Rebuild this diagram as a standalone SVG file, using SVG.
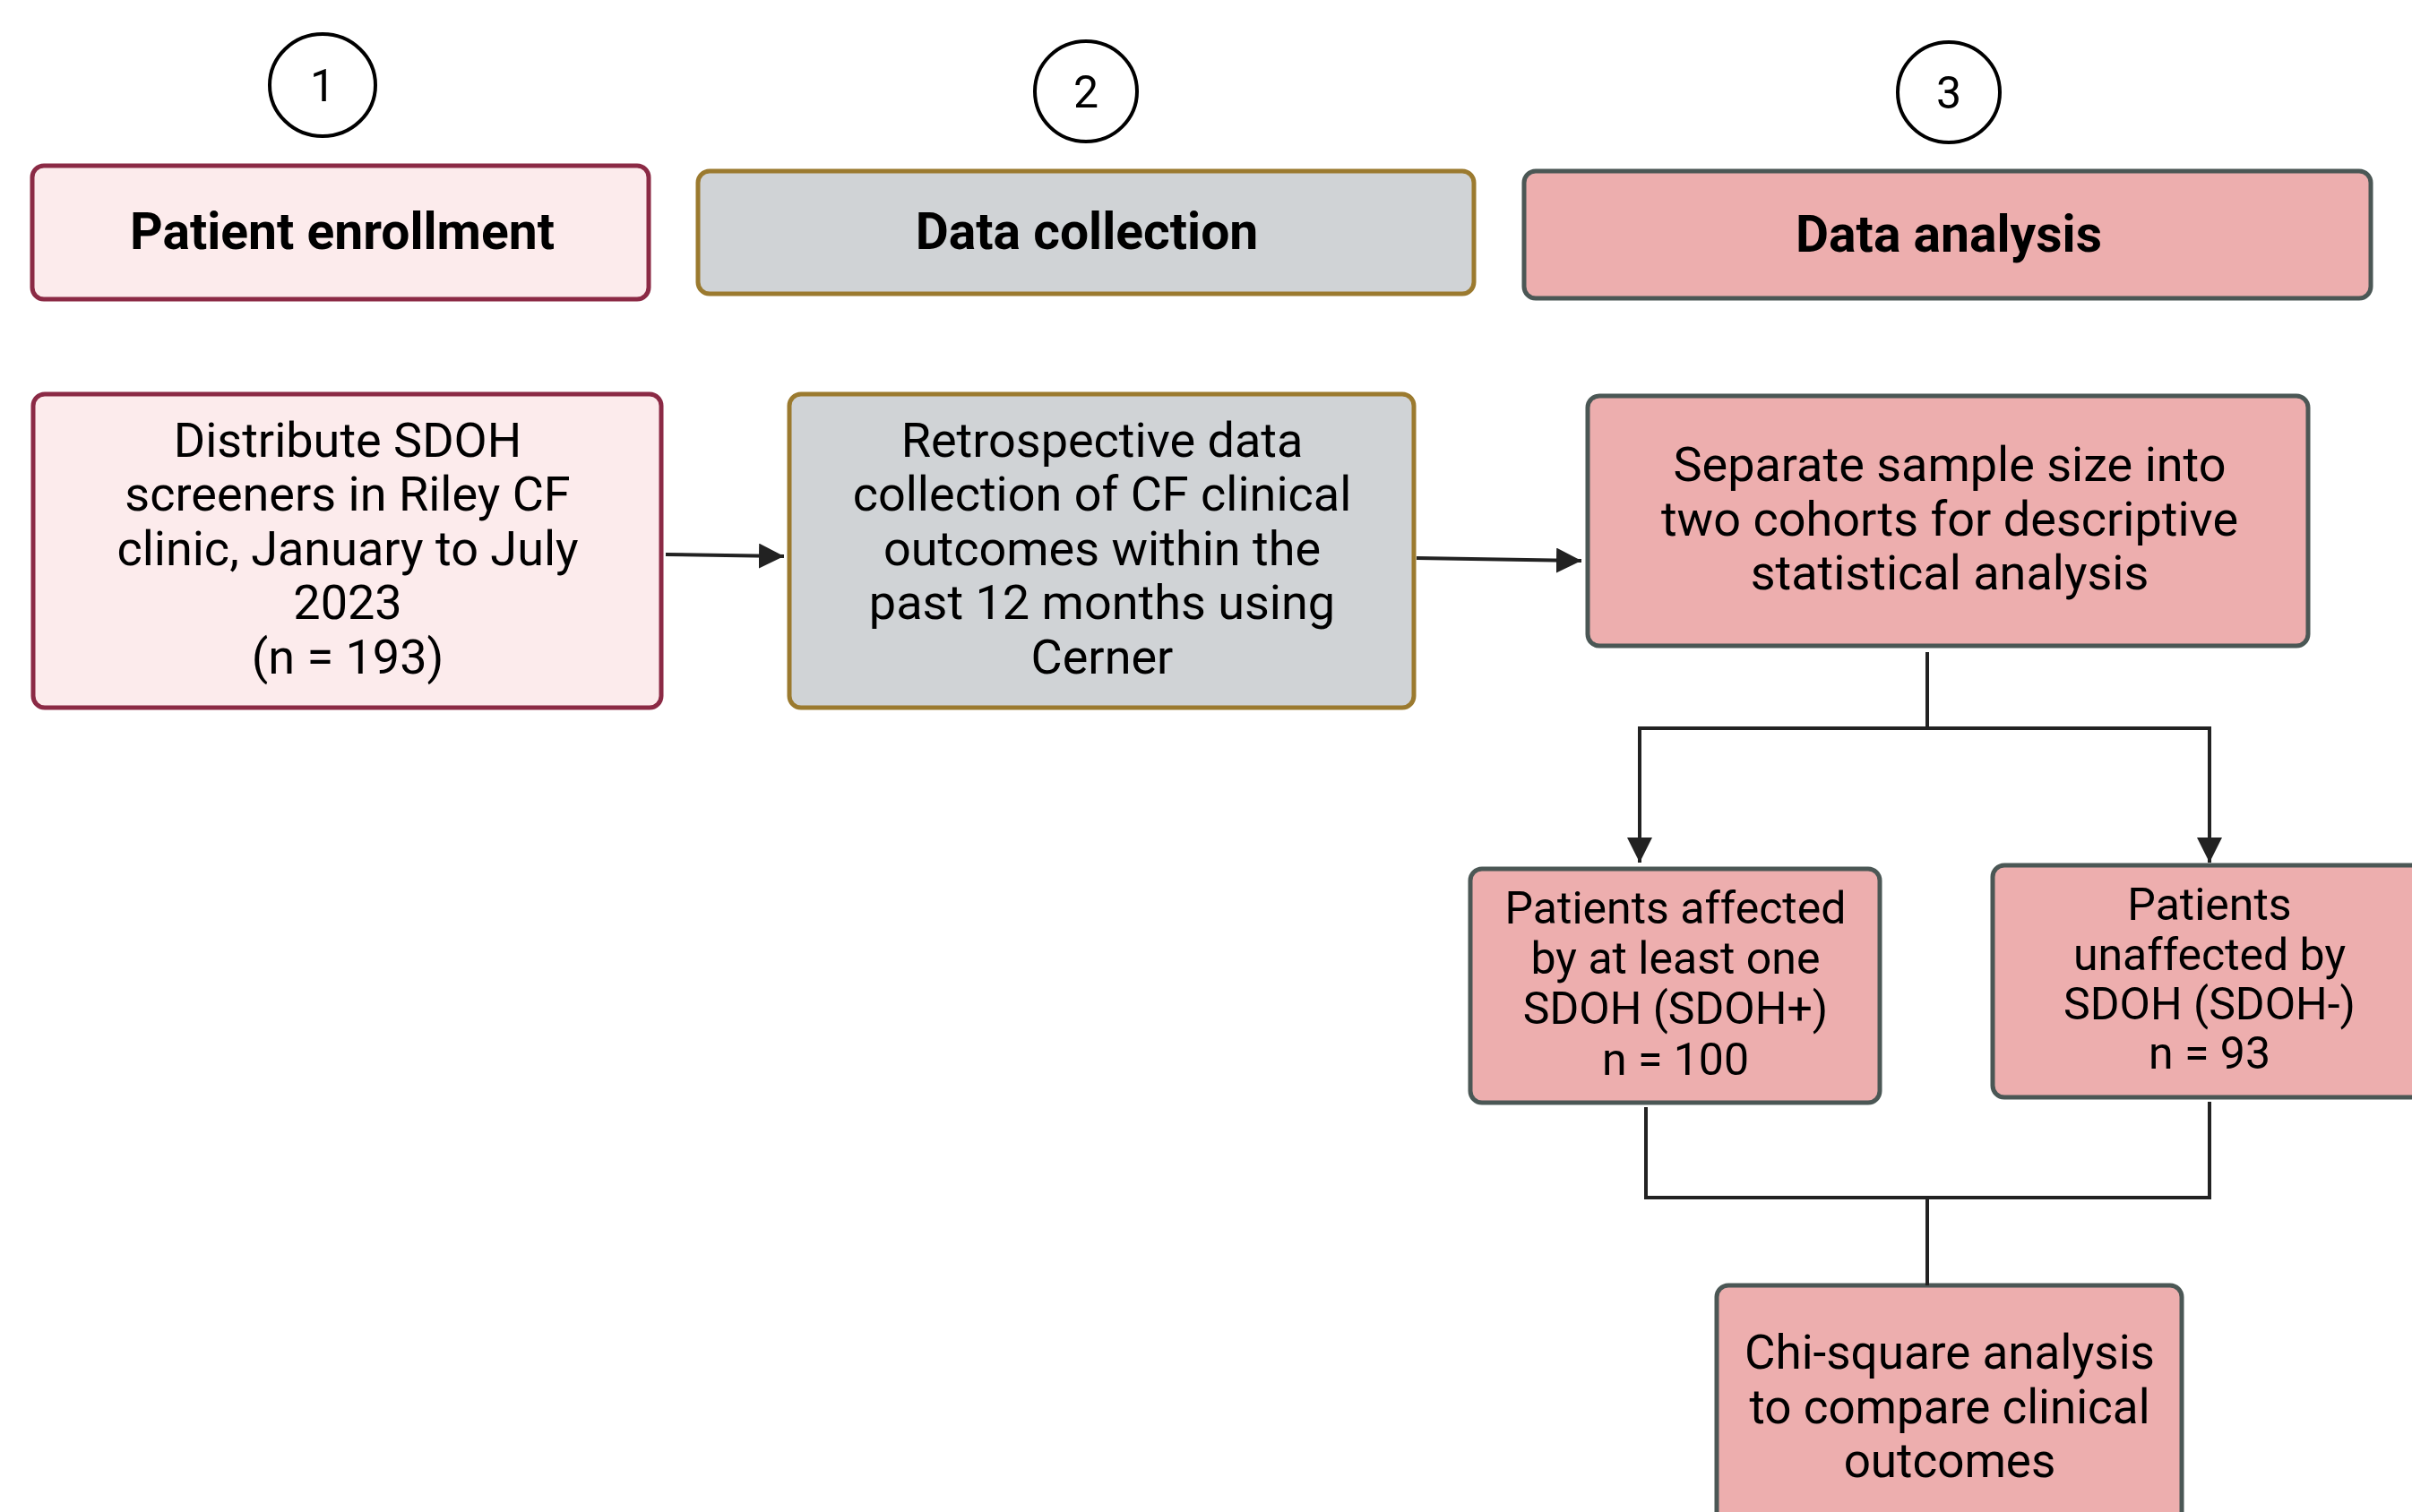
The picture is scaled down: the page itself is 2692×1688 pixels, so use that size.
<svg xmlns="http://www.w3.org/2000/svg" width="2692" height="1688" viewBox="0 0 2692 1688">
<style>
.num{fill:#fff;stroke:#000;stroke-width:4}
.numt{font-family:Roboto,"Liberation Sans",sans-serif;font-size:50px;fill:#000;text-anchor:middle}
.hdr{font-family:Roboto,"Liberation Sans",sans-serif;font-size:57px;font-weight:bold;fill:#000;text-anchor:middle}
.t{font-family:Roboto,"Liberation Sans",sans-serif;font-size:54px;fill:#000;text-anchor:middle}
.s{font-size:50px}
.m{font-size:53px}
.b1{fill:#FCEBEC;stroke:#8B2A45;stroke-width:5}
.b2{fill:#D0D3D6;stroke:#9B7A2F;stroke-width:5}
.b3{fill:#EDAEAE;stroke:#4B5755;stroke-width:5}
.c{fill:none;stroke:#222;stroke-width:4}
</style>
<defs>
<marker id="ah" viewBox="0 0 10 10" refX="10" refY="5" markerWidth="7" markerHeight="7" markerUnits="strokeWidth" orient="auto">
<path d="M0,0 L10,5 L0,10 Z" fill="#222"/>
</marker>
</defs>
<rect width="2692" height="1688" fill="#fff"/>
<g id="step1">
<ellipse class="num" cx="360" cy="95" rx="59" ry="57"/>
<text class="numt" x="360" y="113">1</text>
</g>
<g id="step2">
<ellipse class="num" cx="1212" cy="102" rx="57" ry="56"/>
<text class="numt" x="1212" y="120">2</text>
</g>
<g id="step3">
<ellipse class="num" cx="2175" cy="103" rx="57" ry="56"/>
<text class="numt" x="2175" y="121">3</text>
</g>
<g id="hdr-enroll">
<rect class="b1" x="36" y="185" width="688" height="149" rx="13"/>
<text class="hdr" x="382" y="278">Patient enrollment</text>
</g>
<g id="hdr-collect">
<rect class="b2" x="779" y="191" width="866" height="137" rx="13"/>
<text class="hdr" x="1213" y="278">Data collection</text>
</g>
<g id="hdr-analysis">
<rect class="b3" x="1701" y="191" width="945" height="142" rx="13"/>
<text class="hdr" x="2175" y="281">Data analysis</text>
</g>
<g id="distribute">
<rect class="b1" x="37" y="440" width="701" height="350" rx="13"/>
<text class="t" x="388"><tspan x="388" y="510">Distribute SDOH</tspan><tspan x="388" y="570">screeners in Riley CF</tspan><tspan x="388" y="631">clinic, January to July</tspan><tspan x="388" y="691">2023</tspan><tspan x="388" y="752">(n = 193)</tspan></text>
</g>
<g id="retro">
<rect class="b2" x="881" y="440" width="697" height="350" rx="13"/>
<text class="t" x="1230"><tspan x="1230" y="510">Retrospective data</tspan><tspan x="1230" y="570">collection of CF clinical</tspan><tspan x="1230" y="631">outcomes within the</tspan><tspan x="1230" y="691">past 12 months using</tspan><tspan x="1230" y="752">Cerner</tspan></text>
</g>
<g id="separate">
<rect class="b3" x="1772" y="442" width="804" height="279" rx="13"/>
<text class="t" x="2176"><tspan x="2176" y="537">Separate sample size into</tspan><tspan x="2176" y="598">two cohorts for descriptive</tspan><tspan x="2176" y="658">statistical analysis</tspan></text>
</g>
<g id="sdoh-pos">
<rect class="b3" x="1641" y="970" width="457" height="261" rx="13"/>
<text class="t s" x="1870"><tspan x="1870" y="1031">Patients affected</tspan><tspan x="1870" y="1087">by at least one</tspan><tspan x="1870" y="1143">SDOH (SDOH+)</tspan><tspan x="1870" y="1200">n = 100</tspan></text>
</g>
<g id="sdoh-neg">
<rect class="b3" x="2224" y="966" width="490" height="259" rx="13"/>
<text class="t s" x="2466"><tspan x="2466" y="1027">Patients</tspan><tspan x="2466" y="1083">unaffected by</tspan><tspan x="2466" y="1138">SDOH (SDOH-)</tspan><tspan x="2466" y="1193">n = 93</tspan></text>
</g>
<g id="chisq">
<rect class="b3" x="1916" y="1435" width="519" height="300" rx="13"/>
<text class="t m" x="2176"><tspan x="2176" y="1528">Chi-square analysis</tspan><tspan x="2176" y="1589">to compare clinical</tspan><tspan x="2176" y="1649">outcomes</tspan></text>
</g>
<g id="connectors">
<path class="c" d="M743,619 L875,621" marker-end="url(#ah)"/>
<path class="c" d="M1581,623 L1765,626" marker-end="url(#ah)"/>
<path class="c" d="M2151,728 L2151,813"/>
<path class="c" d="M1830,963 L1830,813 L2466,813 L2466,963" marker-end="url(#ah)"/>
<path class="c" d="M1830,813 L1830,963" marker-end="url(#ah)"/>
<path class="c" d="M1837,1236 L1837,1337 L2466,1337 L2466,1230"/>
<path class="c" d="M2151,1337 L2151,1435"/>
</g>
</svg>
